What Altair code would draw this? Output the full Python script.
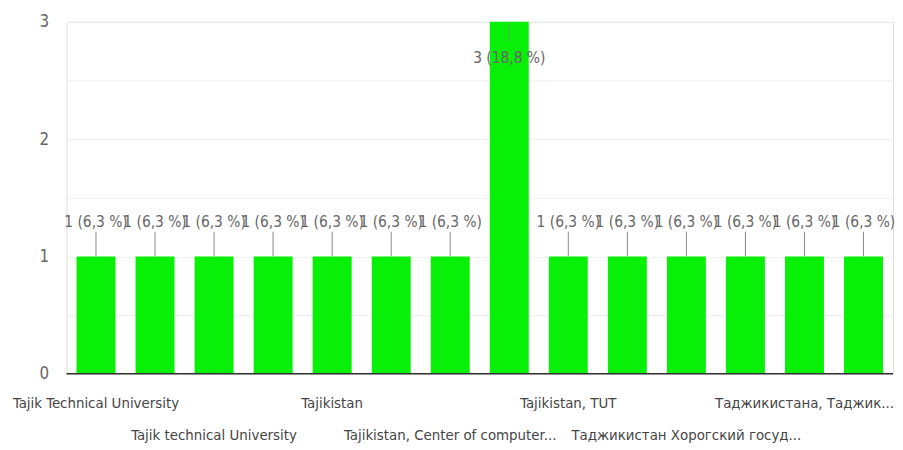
import altair as alt
import pandas as pd

# Data
labels = [
    "Tajik Technical University", "", "Tajik technical University", "",
    "Tajikistan", "", "Tajikistan, Center of computer...", "",
    "Tajikistan, TUT", "", "Таджикистан Хорогский госуд...", "",
    "Таджикистана, Таджик...", "",
]
counts = [1, 1, 1, 1, 1, 1, 1, 3, 1, 1, 1, 1, 1, 1]

df = pd.DataFrame({"idx": list(range(len(counts))), "label": labels, "count": counts})

FONT = "'Liberation Sans Narrow', 'DejaVu Sans Condensed', 'Roboto Condensed', 'Liberation Sans', sans-serif"
W, H = 834, 355
GREEN = "#08f008"
GREY = "#666666"

base = alt.Chart(df).transform_joinaggregate(
    total="sum(count)"
).transform_calculate(
    pct="replace(format(datum.count / datum.total * 100, '.1f'), '.', ',')",
    txt="datum.count + ' (' + datum.pct + ' %)'",
)

xenc = alt.X("idx:O", axis=None, scale=alt.Scale(paddingInner=0.34, paddingOuter=0.17))
yscale = alt.Scale(domain=[0, 3], nice=False)

bars = base.mark_bar(color=GREEN).encode(
    x=xenc,
    y=alt.Y("count:Q", scale=yscale,
            axis=alt.Axis(values=[0, 0.5, 1, 1.5, 2, 2.5, 3], title=None,
                          labelExpr="datum.value % 1 == 0 ? format(datum.value, 'd') : ''",
                          domain=False, ticks=False, labelPadding=18,
                          labelFont=FONT, labelFontSize=17, labelColor=GREY,
                          gridColor="#eeeeee", gridWidth=1)),
)

maxc = max(counts)

leader_low = base.transform_filter(f"datum.count < {maxc}").transform_calculate(
    ytop="datum.count + 0.21"
).mark_rule(color="#888888", strokeWidth=1).encode(
    x=xenc, y=alt.Y("count:Q", scale=yscale), y2="ytop:Q"
)
leader_high = base.transform_filter(f"datum.count == {maxc}").transform_calculate(
    ybot="datum.count - 0.17"
).mark_rule(color="#888888", strokeWidth=1, opacity=0.6).encode(
    x=xenc, y=alt.Y("count:Q", scale=yscale), y2="ybot:Q"
)

text_low = base.transform_filter(f"datum.count < {maxc}").transform_calculate(
    ty="datum.count + 0.29"
).mark_text(font=FONT, fontSize=15.5, color=GREY, baseline="middle").encode(
    x=xenc, y=alt.Y("ty:Q", scale=yscale), text="txt:N"
)
text_high = base.transform_filter(f"datum.count == {maxc}").transform_calculate(
    ty="datum.count - 0.31"
).mark_text(font=FONT, fontSize=15.5, color=GREY, baseline="middle").encode(
    x=xenc, y=alt.Y("ty:Q", scale=yscale), text="txt:N"
)

zero_line = alt.Chart(pd.DataFrame({"v": [0]})).mark_rule(color="#333333", strokeWidth=1.5).encode(
    y=alt.Y("v:Q", scale=yscale), x=alt.value(0), x2=alt.value(W)
)

xl = base.transform_filter("datum.label != ''").transform_calculate(
    row="floor(datum.idx / 2) % 2"
)
xlab1 = xl.transform_filter("datum.row == 0").mark_text(
    font=FONT, fontSize=15, color="#444444", baseline="middle"
).encode(x=xenc, y=alt.value(H + 30), text="label:N")
xlab2 = xl.transform_filter("datum.row == 1").mark_text(
    font=FONT, fontSize=15, color="#444444", baseline="middle"
).encode(x=xenc, y=alt.value(H + 62), text="label:N")

chart = alt.layer(
    bars, leader_low, leader_high, text_low, text_high, zero_line, xlab1, xlab2
).properties(
    width=W, height=H,
    autosize=alt.AutoSizeParams(type="none"),
    padding={"left": 59, "top": 12, "right": 2, "bottom": 70},
).configure_view(stroke=None).configure(background="white")

chart.save("out.html", embed_options={"renderer": "svg", "actions": False})
